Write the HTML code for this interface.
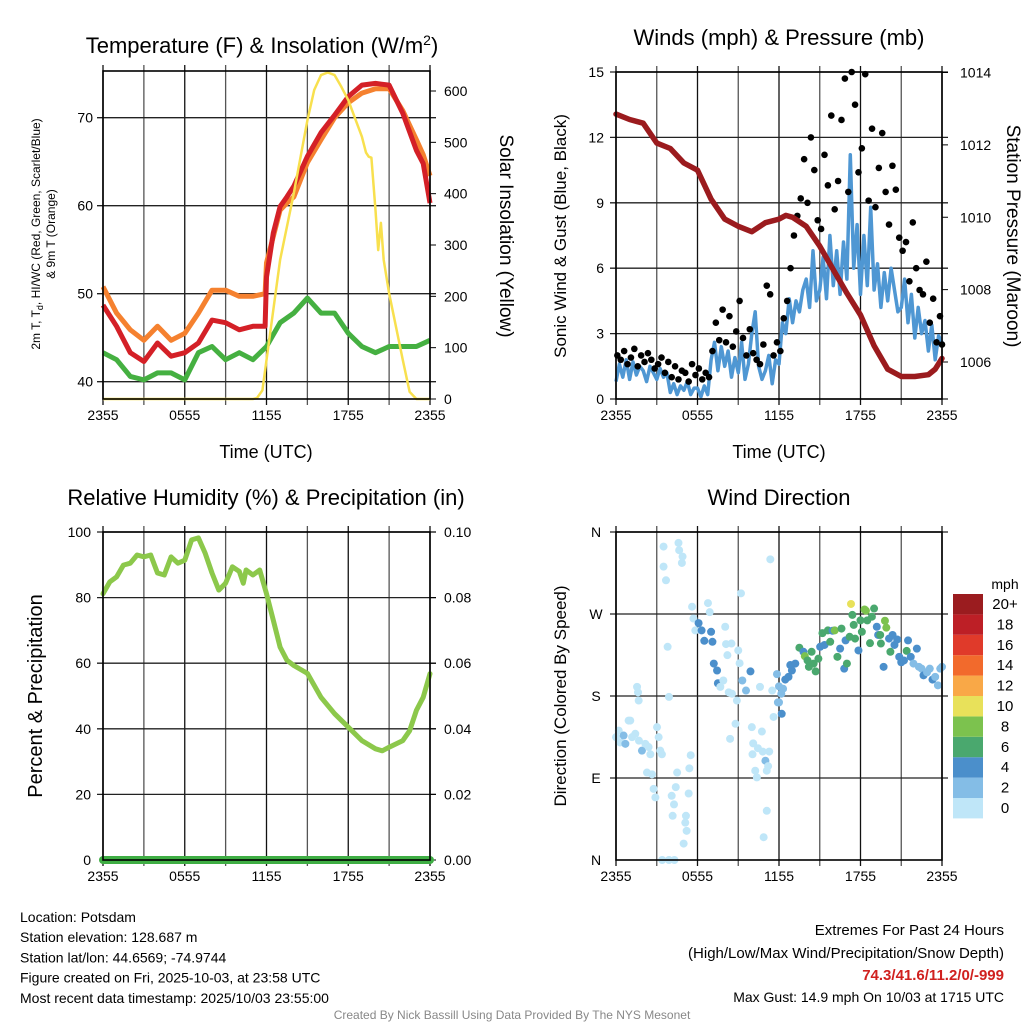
<!DOCTYPE html>
<html><head><meta charset="utf-8"><style>
html,body{margin:0;padding:0;background:#fff;}
svg{display:block;font-family:"Liberation Sans",Arial,sans-serif;}
</style></head><body>
<svg id="c" width="1024" height="1024" viewBox="0 0 1024 1024" xmlns="http://www.w3.org/2000/svg"></svg>
<script>
// ---------- DATA ----------
const xTickLabels = ["2355","0555","1155","1755","2355"];
// Temperature panel (hours since 2355)
const tempHours = [0,1,2,3,4,5,6,7,8,9,10,11,11.9,12,12.5,13,13.5,14,15,16,17,18,19,20,21,22,23,23.5,24];
const temp2m = [48.7,46.3,43.3,42.3,44.4,42.9,43.3,44.4,47,46.7,45.9,46.3,46.3,51.9,56.9,59.9,61,62.2,65.6,68.3,70.3,72.4,73.7,73.9,73.7,70.5,66.3,64.8,60.3];
const temp9m = [50.8,47.8,45.9,44.7,46.3,44.7,45.5,47.8,50.4,50.4,49.7,49.7,50,53.5,56.5,59.5,60.3,61,64.9,67.5,70,71.7,72.8,73.3,73.3,70.8,67.5,65.8,63.4];
const dewHours = [0,1,2,3,4,5,6,7,8,9,10,11,12,13,14,15,16,17,18,19,20,21,22,23,24];
const dewpoint = [43.3,42.5,40.6,40.2,41,41,40.2,43.3,44,42.5,43.3,42.5,44,46.7,47.8,49.5,47.8,47.8,45.5,44,43.3,44,44,44,44.7];
const solarHours = [0,11,11.3,11.7,12,13,14,15,15.5,16,16.5,17,17.5,18,19,19.3,19.5,19.7,20,20.2,20.4,20.6,21,22,22.5,23,24];
const solar = [0,0,2,17,76,271,401,543,602,631,636,631,608,582,511,480,472,470,368,290,343,271,206,76,14,0,0];
const tempTicks = [40,50,60,70];
const solarTicks = [0,100,200,300,400,500,600];
// Winds panel
const windValues = [0.8,1.6,1.0,1.8, 0.9,1.7,1.1,1.5, 1.3,0.8,1.5,1.2, 0.9,1.4,1.0,1.2, 0.3,0.7,0.2,0.6, 0.4,0.8,0.2,0.5, 0.5,0.1,0.6,0.2, 1.8,2.6,1.3,2.4, 1.5,2.2,1.0,1.9, 1.2,2.6,0.9,1.6, 3.0,4.0,1.5,0.9, 1.3,2.0,0.7,1.8, 1.6,3.5,3.0,4.6, 3.5,4.5,4.0,5.0, 5.5,4.2,6.8,4.5, 5.0,6.5,4.6,7.5, 5.2,6.8,4.8,7.2, 5.5,11.2,6.0,8.0, 4.8,7.5,5.2,8.8, 5.0,6.2,4.2,5.8, 4.5,6.0,5.0,4.0, 4.2,5.5,3.5,4.8, 2.8,4.2,3.0,3.6, 2.2,3.4,1.8,2.9, 2.6];
const gustValues = [2.0,1.8,2.2,1.6, 1.9,2.3,1.5,2.0, 1.7,2.1,1.8,1.4, 1.6,1.9,1.2,1.7, 1.0,1.5,0.9,1.3, 1.2,0.8,1.6,1.1, 1.4,0.9,1.2,1.0, 2.2,3.5,2.7,4.1, 2.6,3.8,2.4,3.1, 4.5,2.8,2.0,3.2, 2.1,1.8,1.6,2.5, 5.2,4.8,2.0,2.6, 2.2,3.7,4.5,6.0, 7.5,8.4,9.2,11.0, 9.0,12.0,10.5,8.2, 7.8,11.2,9.8,13.0, 8.7,10.0,12.8,14.7, 9.5,15.0,13.5,10.4, 11.5,14.9,9.1,12.4, 8.8,10.6,12.2,9.5, 8.0,10.7,9.6,7.4, 6.8,7.2,5.4,8.1, 6.0,5.0,4.8,6.3, 3.5,4.6,2.6,3.8, 2.5];
const pressHours = [0,1,2,3,4,5,6,7,8,9,10,11,12,12.5,13,14,15,16,17,18,19,20,21,22,23,23.5,24];
const pressure = [1012.85,1012.7,1012.6,1012.05,1011.9,1011.5,1011.3,1010.5,1009.95,1009.75,1009.6,1009.85,1009.95,1010.05,1010.0,1009.75,1009.2,1008.55,1007.9,1007.3,1006.45,1005.8,1005.6,1005.6,1005.65,1005.8,1006.1];
const windTicks = [0,3,6,9,12,15];
const pressTicks = [1006,1008,1010,1012,1014];
// RH panel
const rhHours = [0,0.5,1,1.5,2,2.5,3,3.5,4,4.5,5,5.5,6,6.5,7,7.5,8,8.5,9,9.5,10,10.3,10.5,11,11.5,12,12.5,13,13.5,14,15,16,17,18,19,20,20.5,21,22,22.5,23,23.5,24];
const rhValues = [81.2,84.8,86.3,89.9,90.5,93,92.4,93,87.5,86.9,92.4,90.5,91.4,97.6,98.2,93.5,87.5,82.3,84.4,89.4,88,84.4,88.4,86.9,88.4,81.2,73.1,64.9,60.9,59.3,56.9,49.6,44.6,40.5,36.4,33.9,33.3,34.4,36.4,39.4,45.6,49.6,56.8];
const precipHours = [0,24];
const precipValues = [0,0];
const rhTicks = [0,20,40,60,80,100];
const precipTicks = ["0.00","0.02","0.04","0.06","0.08","0.10"];
// Wind direction panel
const dirHours = [0,0.2,0.3,0.56,0.69,0.93,1.05,1.18,1.42,1.69,1.91,2.16,2.4,2.53,2.28,2.65,2.77,2.9,3.02,3.14,3.26,3.38,1.55,1.62,1.67,
3.5,3.5,3.68,4.6,4.65,4.9,4.85,3.8,3.9,4.1,4.27,4.17,4.4,4.5,4.98,5.1,5.2,5.15,5.35,5.4,5.5,3.4,3.9,4.3,
5.6,5.7,5.84,6.08,6.3,6.5,6.77,6.9,7.0,7.1,8.04,8.1,8.5,8.2,9.0,7.2,7.44,7.5,7.68,7.9,8.3,8.54,8.9,8.4,8.8,9.2,9.1,9.3,9.57,9.9,10.0,10.1,10.45,10.74,10.8,10.05,10.25,10.37,11.0,11.1,11.2,11.28,11.1,10.87,11.36,10.6,11.5,11.85,12.0,11.92,12.0,12.17,12.3,12.2,11.6,
12.46,12.7,12.95,12.83,13.2,13.5,13.8,13.9,14.1,14.2,14.4,14.55,14.7,14.9,15.03,15.2,15.35,15.6,15.77,15.94,16.1,16.3,16.5,16.6,16.8,16.9,17.0,17.2,17.3,17.4,17.5,17.6,17.85,18.0,18.1,18.3,18.4,18.5,18.7,18.84,19.0,19.2,19.3,19.45,19.5,19.7,19.8,19.9,20.1,20.2,20.36,20.5,20.7,20.85,21.0,21.2,21.4,21.5,21.7,21.9,22.15,22.3,22.5,22.64,22.9,23.1,23.3,23.5,23.7,23.87,24];
const dirDegrees = [134.8,142,129,136.6,127.5,153,153,134.8,138.5,131,120,127.5,124,116,96,94,78,68.7,145.8,134.8,120,116,190,184,175,
344,322,307,348,340,333,326,234,179,70.5,61,48.5,80,96,18,41,32,48.5,73,100.6,115,0,0,0,
278,265,252,260,252,240.6,282,272,250.5,239.5,256,237,237.6,224.8,230,215.6,208,194,190,197,184,182.5,175,133,149.5,292.7,216,197,186,207,145.8,128,122.7,141,119,116,98,90.7,109,98,103,119,54,25,330,190,186,204,173,173,190.6,182.5,188,160.5,157,
198,201,208,214,215.6,233,228.5,223.7,219,212,228.5,215.6,207,221,234,249,236,252,239.5,251.6,252,223,232,254,210,241,215.6,245,281,269,258,243,230,263,250.5,275,273.6,263,238,267,276,256,247,247,237.6,212,262.6,255,243,228.5,247,236,242,223,217,219,229.5,241,223,215.6,232,212,210,202.7,206,210,198,201,191.7,210,212];
const dirSpeeds = [1,1,1,3,3,1,1,1,1,1,3,1,1,1,1,1,1,1,1,1,1,1,1,1,1,
1,1,1,1,1,1,1,1,1,1,1,1,1,1,1,1,1,1,1,1,1,1,1,1,
1,1,1,5,5,5,1,1,5,5,1,1,1,1,1,5,5,5,1,1,1,1,1,1,1,1,1,3,3,5,1,1,1,1,1,1,1,1,3,1,1,1,1,1,1,1,1,3,3,3,3,3,3,5,1,
5,5,5,5,5,7,5,9,7,7,7,7,7,7,5,7,5,7,7,5,9,7,5,7,5,5,7,7,10.5,7,7,7,5,7,7,9,9,7,7,7,7,5,5,7,7,5,9,9,5,7,5,5,5,5,5,5,7,5,5,3,5,3,3,5,3,3,5,3,3,3,3];
const dirTicks = ["N","E","S","W","N"];
const speedBins = ["0","2","4","6","8","10","12","14","16","18","20+"];
const speedColors = ["#bfe6f8","#84bde6","#4b8fcb","#4aa86e","#7cc24e","#e8e15a","#f9a847","#f26a2c","#e03a2a","#bd1f26","#9b1c1f"];

// ---------- HELPERS ----------
const NS="http://www.w3.org/2000/svg";
const svg=document.getElementById('c');
function mk(tag,attrs,parent){const e=document.createElementNS(NS,tag);for(const k in attrs)e.setAttribute(k,attrs[k]);(parent||svg).appendChild(e);return e;}
function txt(s,x,y,size,anchor,parent,extra){const e=mk('text',Object.assign({x:x,y:y,'font-size':size,'text-anchor':anchor||'middle',fill:'#000'},extra||{}),parent);e.textContent=s;return e;}
function lin(a0,a1,p0,p1){return v=>p0+(v-a0)*(p1-p0)/(a1-a0);}
function pathFrom(xs,ys,fx,fy){return xs.map((t,i)=>(i?'L':'M')+fx(t).toFixed(1)+','+fy(ys[i]).toFixed(1)).join(' ');}

function frame(g,L,R,T,B,hVals,fy){
  for(let i=0;i<=8;i++){const x=L+(R-L)*i/8;
    mk('line',{x1:x,y1:T-6,x2:x,y2:B+6,stroke:i%2?'#555':'#111','stroke-width':1.3},g);}
  hVals.forEach(v=>{mk('line',{x1:L-6,y1:fy(v),x2:R+6,y2:fy(v),stroke:'#222','stroke-width':1.3},g);});
  for(let i=0;i<5;i++){txt(xTickLabels[i],L+(R-L)*i/4,B+21,14,'middle',g);}
}
function border(g,L,R,T,B){mk('rect',{x:L,y:T,width:R-L,height:B-T,fill:'none',stroke:'#000','stroke-width':1.6},g);}

// ---------- PANEL 1 ----------
(function(){
const L=103,R=430,T=71,B=399;
const fx=lin(0,24,L,R), fy=lin(40,70,381.7,117.7), fs=lin(0,600,399,91);
const g=mk('g',{});


const t=txt('Temperature (F) & Insolation (W/m',262,53,22,'middle',g);
const sup=mk('tspan',{dy:-8,'font-size':14},t);sup.textContent='2';
const cl=mk('tspan',{dy:8},t);cl.textContent=')';

frame(g,L,R,T,B,tempTicks,fy);
tempTicks.forEach(v=>txt(String(v),L-10,fy(v)+5,14,'end',g));
solarTicks.forEach(v=>{mk('line',{x1:R,y1:fs(v),x2:R+6,y2:fs(v),stroke:'#000'},g);txt(String(v),R+14,fs(v)+5,14,'start',g);});
const gp=mk('path',{d:pathFrom(dewHours,dewpoint,fx,fy),fill:'none',stroke:'#45b041','stroke-width':5,'stroke-linejoin':'round'},g);

const op=mk('path',{d:pathFrom(tempHours,temp9m,fx,fy),fill:'none',stroke:'#f5812f','stroke-width':5,'stroke-linejoin':'round'},g);

const rp=mk('path',{d:pathFrom(tempHours,temp2m,fx,fy),fill:'none',stroke:'#d42027','stroke-width':5,'stroke-linejoin':'round'},g);

const yp=mk('path',{d:pathFrom(solarHours,solar,fx,fs),fill:'none',stroke:'#f8e04e','stroke-width':2.5,'stroke-linejoin':'round'},g);

border(g,L,R,T,B);
const xl=txt('Time (UTC)',266,458,18,'middle',g);
const yl=mk('text',{transform:'translate(40,234) rotate(-90)','font-size':12,'text-anchor':'middle'},g);
yl.innerHTML='2m T, T<tspan font-size="9" dy="3">d</tspan><tspan dy="-3">, HI/WC (Red, Green, Scarlet/Blue)</tspan>';

const yl2=txt('& 9m T (Orange)',0,0,12,'middle',g,{transform:'translate(55,234) rotate(-90)'});
const yr=txt('Solar Insolation (Yellow)',0,0,19,'middle',g,{transform:'translate(500,236) rotate(90)'});

})();

// ---------- PANEL 2 ----------
(function(){
const L=616,R=942,T=72,B=399;
const fx=lin(0,24,L,R), fy=lin(0,15,399,72), fp=lin(1006,1014,362,72.5);
const g=mk('g',{});


const t=txt('Winds (mph) & Pressure (mb)',779,45,22,'middle',g);
frame(g,L,R,T,B,windTicks,fy);
windTicks.forEach(v=>txt(String(v),L-12,fy(v)+5,14,'end',g));
pressTicks.forEach(v=>{mk('line',{x1:R,y1:fp(v),x2:R+6,y2:fp(v),stroke:'#000'},g);txt(String(v),R+18,fp(v)+5,14,'start',g);});
const wh=windValues.map((_,i)=>i*0.25);
const wp=mk('path',{d:pathFrom(wh,windValues,fx,fy),fill:'none',stroke:'#4f97d3','stroke-width':3.5,'stroke-linejoin':'round'},g);

gustValues.forEach((v,i)=>{const c=mk('circle',{cx:fx(i*0.25+0.1>24?24:i*0.25+0.1),cy:fy(v),r:3.3,fill:'#000'},g);

});
const pp=mk('path',{d:pathFrom(pressHours,pressure,fx,fp),fill:'none',stroke:'#9b1b1e','stroke-width':5.5,'stroke-linejoin':'round','stroke-linecap':'round'},g);

border(g,L,R,T,B);
txt('Time (UTC)',779,458,18,'middle',g);
const yl=txt('Sonic Wind & Gust (Blue, Black)',0,0,17,'middle',g,{transform:'translate(566,236) rotate(-90)'});
const yr=txt('Station Pressure (Maroon)',0,0,19,'middle',g,{transform:'translate(1007,236) rotate(90)'});
})();

// ---------- PANEL 3 ----------
(function(){
const L=103,R=430,T=532,B=860;
const fx=lin(0,24,L,R), fy=lin(0,100,860,532), fq=lin(0,0.1,860,532);
const g=mk('g',{});


const t=txt('Relative Humidity (%) & Precipitation (in)',266,505,22,'middle',g);
frame(g,L,R,T,B,[20,40,60,80,100],fy);
rhTicks.forEach(v=>txt(String(v),L-12,fy(v)+5,14,'end',g));
precipTicks.forEach((s,i)=>{const y=fy(i*20);mk('line',{x1:R,y1:y,x2:R+6,y2:y,stroke:'#000'},g);txt(s,R+14,y+5,14,'start',g);});
const hp=mk('path',{d:pathFrom(rhHours,rhValues,fx,fy),fill:'none',stroke:'#8cc84b','stroke-width':5,'stroke-linejoin':'round','stroke-linecap':'round'},g);

const qp=mk('path',{d:pathFrom(precipHours,precipValues,fx,fq),fill:'none',stroke:'#3fae44','stroke-width':8,'stroke-linecap':'round'},g);

border(g,L,R,T,B);
const yl=txt('Percent & Precipitation',0,0,20,'middle',g,{transform:'translate(42,696) rotate(-90)'});
})();

// ---------- PANEL 4 ----------
(function(){
const L=616,R=942,T=532,B=860;
const fx=lin(0,24,L,R), fy=lin(0,360,860,532);
const g=mk('g',{});


const t=txt('Wind Direction',779,505,22,'middle',g);
frame(g,L,R,T,B,[90,180,270,360],fy);
dirTicks.forEach((s,i)=>txt(s,L-20,fy(i*90)+5,14,'middle',g));
dirHours.forEach((h,i)=>{const b=Math.min(10,Math.floor(dirSpeeds[i]/2));
const c=mk('circle',{cx:fx(h),cy:fy(dirDegrees[i]),r:4,fill:speedColors[b]},g);

});
border(g,L,R,T,B);
const yl=txt('Direction (Colored By Speed)',0,0,17,'middle',g,{transform:'translate(566,696) rotate(-90)'});
const lg=mk('g',{},g);


txt('mph',1005,589,14,'middle',lg);
const n=speedBins.length;
speedBins.forEach((s,i)=>{const j=n-1-i;const y=594+j*20.4;
const r=mk('rect',{x:953,y:y,width:30,height:20.4,fill:speedColors[i]},lg);


txt(s,1005,y+15,15,'middle',lg);});
})();

// ---------- FOOTER TEXT ----------
(function(){
const g=mk('g',{});


["Location: Potsdam","Station elevation: 128.687 m","Station lat/lon: 44.6569; -74.9744","Figure created on Fri, 2025-10-03, at 23:58 UTC","Most recent data timestamp: 2025/10/03 23:55:00"].forEach((s,i)=>txt(s,20,922+i*20.2,14,'start',g));
const g2=mk('g',{});


txt('Extremes For Past 24 Hours',1004,935,15,'end',g2);
txt('(High/Low/Max Wind/Precipitation/Snow Depth)',1004,958,15,'end',g2);
txt('74.3/41.6/11.2/0/-999',1004,980,15,'end',g2,{fill:'#d0211f','font-weight':'bold'});
txt('Max Gust: 14.9 mph On 10/03 at 1715 UTC',1004,1002,14,'end',g2);
const cr=txt('Created By Nick Bassill Using Data Provided By The NYS Mesonet',512,1019,12,'middle',null,{fill:'#888'});

})();
</script>
</body></html>
